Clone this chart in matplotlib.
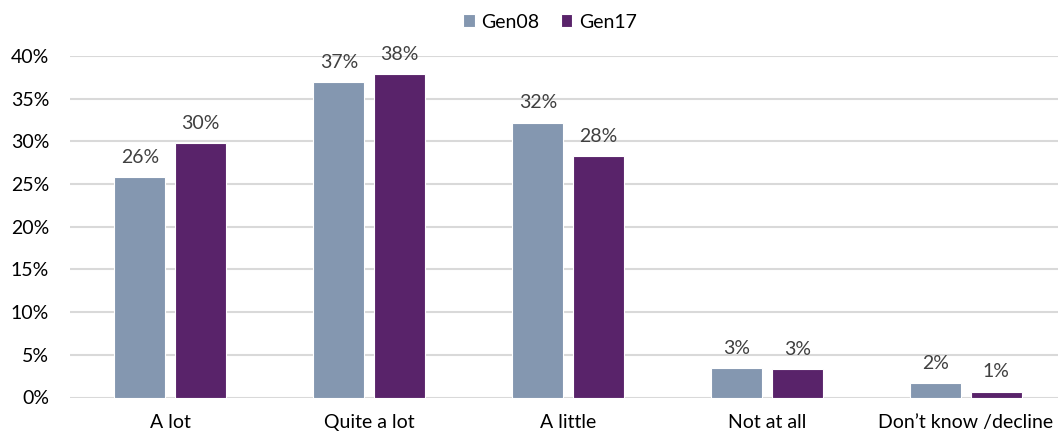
import matplotlib
matplotlib.use("Agg")
import matplotlib.pyplot as plt
import numpy as np
from matplotlib.ticker import FuncFormatter

categories = ["A lot", "Quite a lot", "A little", "Not at all", "Don\u2019t know /decline"]
gen08 = [25.8, 37.0, 32.2, 3.4, 1.7]
gen17 = [29.8, 37.9, 28.3, 3.3, 0.7]
series_names = ["Gen08", "Gen17"]
colors = ["#8497B0", "#59236A"]
yticks = [0, 5, 10, 15, 20, 25, 30, 35, 40]

plt.rcParams["font.family"] = ["Lato", "DejaVu Sans"]

fig = plt.figure(figsize=(10.6, 4.37), dpi=100)
ax = fig.add_axes([70 / 1060, 1 - 397.5 / 437, (1058 - 70) / 1060, (397.5 - 56) / 437])

x = np.arange(len(categories))
width = 0.256
offset = 0.152
for vals, name, col, off in zip([gen08, gen17], series_names, colors, [-offset, offset]):
    bars = ax.bar(x + off, vals, width, color=col, edgecolor="white", linewidth=0.8,
                  label=name, zorder=3)
    for b, v in zip(bars, vals):
        ax.text(b.get_x() + b.get_width() / 2, v + 1.3, f"{v:.0f}%", ha="center",
                va="bottom", fontsize=14, color="#404040")

ax.set_xlim(-0.5025, 4.462)
ax.set_ylim(0, 40)
ax.set_yticks(yticks)
ax.yaxis.set_major_formatter(FuncFormatter(lambda v, p: f"{v:.0f}%"))
ax.set_xticks(x)
ax.set_xticklabels(categories)
ax.tick_params(axis="both", length=0, labelsize=14, colors="#000000")
ax.tick_params(axis="x", pad=12)
ax.tick_params(axis="y", pad=15)
for s in ax.spines.values():
    s.set_visible(False)
ax.grid(axis="y", color="#D9D9D9", linewidth=1.5, zorder=0)
ax.set_axisbelow(True)

ax.legend(loc="upper center", bbox_to_anchor=(550 / 1060, 1 + 4 / 437),
          bbox_transform=fig.transFigure, ncol=2, frameon=False, fontsize=14,
          handlelength=0.6, handleheight=0.6, handletextpad=0.35, columnspacing=1.1)

fig.savefig("out.png", dpi=100)
